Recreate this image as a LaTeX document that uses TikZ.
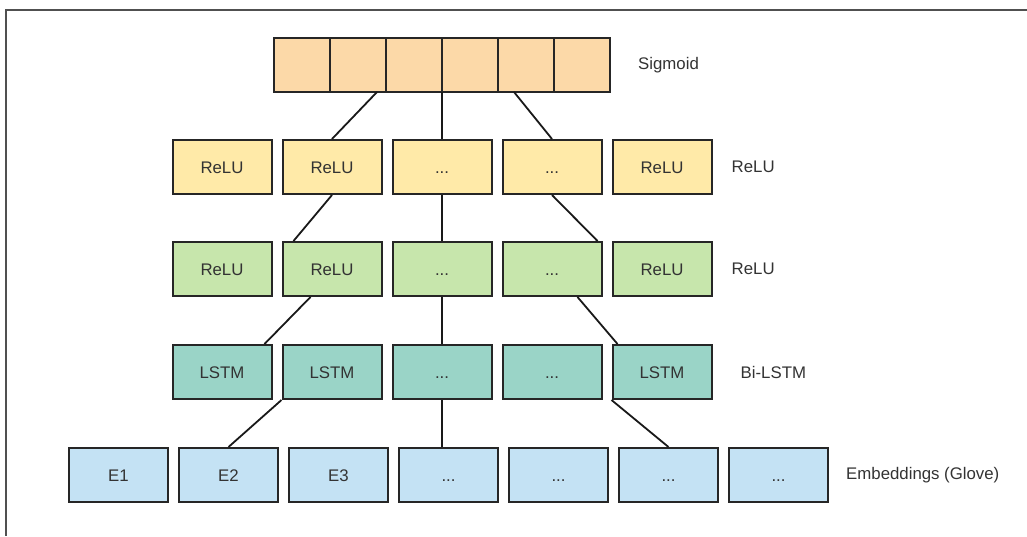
\documentclass[tikz,border=0pt]{standalone}
\usepackage{fontspec}
\setmainfont{Liberation Sans}
\usetikzlibrary{positioning}
\definecolor{sigfill}{RGB}{252,217,168}
\definecolor{relufill}{RGB}{255,234,168}
\definecolor{densefill}{RGB}{199,230,172}
\definecolor{lstmfill}{RGB}{154,212,199}
\definecolor{embfill}{RGB}{196,226,244}
\definecolor{framegray}{RGB}{80,80,80}

\begin{document}
\begin{tikzpicture}[x=1pt,y=-1pt,
    cell/.style={
        draw=black!85,line width=2pt,minimum width=99pt,minimum height=54pt,inner sep=0pt,
        text height=12pt,text depth=0pt,
        font=\fontsize{16.8}{20}\selectfont,text=black!80,
    },
    sig_cell/.style={
        cell,fill=sigfill,minimum width=56pt,outer sep=0pt,
    },
    relu_box/.style={
        cell,fill=relufill,
    },
    dense_box/.style={
        cell,fill=densefill,
    },
    lstm_box/.style={
        cell,fill=lstmfill,
    },
    emb_box/.style={
        cell,fill=embfill,
    },
    layer_name/.style={
        inner sep=0pt,font=\fontsize{16.8}{20}\selectfont,text=black!80,
    },
    link/.style={
        draw=black!90,line width=1.8pt,
    }
]
    \useasboundingbox (0,0) rectangle (1027,536);
    \draw[framegray,line width=2pt](1027,9.5) -- (6,9.5) -- (6,536);

    % sigmoid output
    \node[sig_cell] at (302,65) (s1) {};
    \node[sig_cell,right=0pt of s1](s2){};
    \node[sig_cell,right=0pt of s2](s3){};
    \node[sig_cell,right=0pt of s3](s4){};
    \node[sig_cell,right=0pt of s4](s5){};
    \node[sig_cell,right=0pt of s5](s6){};
    \node[layer_name,right=28pt of s6](sig_lbl){Sigmoid};

    % first relu layer
    \node[relu_box] at (222,167) (r1) {ReLU};
    \node[relu_box,right=9pt of r1](r2){ReLU};
    \node[relu_box,right=9pt of r2](r3){...};
    \node[relu_box,right=9pt of r3](r4){...};
    \node[relu_box,right=9pt of r4](r5){ReLU};
    \node[layer_name,right=19pt of r5](r_lbl){ReLU};

    % second relu layer
    \node[dense_box,below=46pt of r1](g1){ReLU};
    \node[dense_box,right=9pt of g1](g2){ReLU};
    \node[dense_box,right=9pt of g2](g3){...};
    \node[dense_box,right=9pt of g3](g4){...};
    \node[dense_box,right=9pt of g4](g5){ReLU};
    \node[layer_name,right=19pt of g5](g_lbl){ReLU};

    % bi-lstm
    \node[lstm_box,below=47pt of g1](l1){LSTM};
    \node[lstm_box,right=9pt of l1](l2){LSTM};
    \node[lstm_box,right=9pt of l2](l3){...};
    \node[lstm_box,right=9pt of l3](l4){...};
    \node[lstm_box,right=9pt of l4](l5){LSTM};
    \node[layer_name,right=28pt of l5](l_lbl){Bi-LSTM};

    % embeddings
    \node[emb_box] at (118.5,475) (e1) {E1};
    \node[emb_box,right=9pt of e1](e2){E2};
    \node[emb_box,right=9pt of e2](e3){E3};
    \node[emb_box,right=9pt of e3](e4){...};
    \node[emb_box,right=9pt of e4](e5){...};
    \node[emb_box,right=9pt of e5](e6){...};
    \node[emb_box,right=9pt of e6](e7){...};
    \node[layer_name,right=17pt of e7](e_lbl){Embeddings (Glove)};

    \draw[link]([xshift=-9pt]s2.south east) to (r2.north);
    \draw[link](s3.south east) to (s3.south east |- r3.north);
    \draw[link]([xshift=16pt]s5.south west) to (r4.north);

    \draw[link](r2.south) to ([xshift=12pt]g2.north west);
    \draw[link](r3.south) to (g3.north);
    \draw[link](r4.south) to ([xshift=-5pt]g4.north east);

    \draw[link]([xshift=29pt]g2.south west) to ([xshift=-8pt]l1.north east);
    \draw[link](g3.south) to (l3.north);
    \draw[link]([xshift=-25pt]g4.south east) to ([xshift=6pt]l5.north west);

    \draw[link](l2.south west) to (e2.north);
    \draw[link](l3.south) to (l3.south |- e4.north);
    \draw[link](l5.south west) to (e6.north);
\end{tikzpicture}
\end{document}
